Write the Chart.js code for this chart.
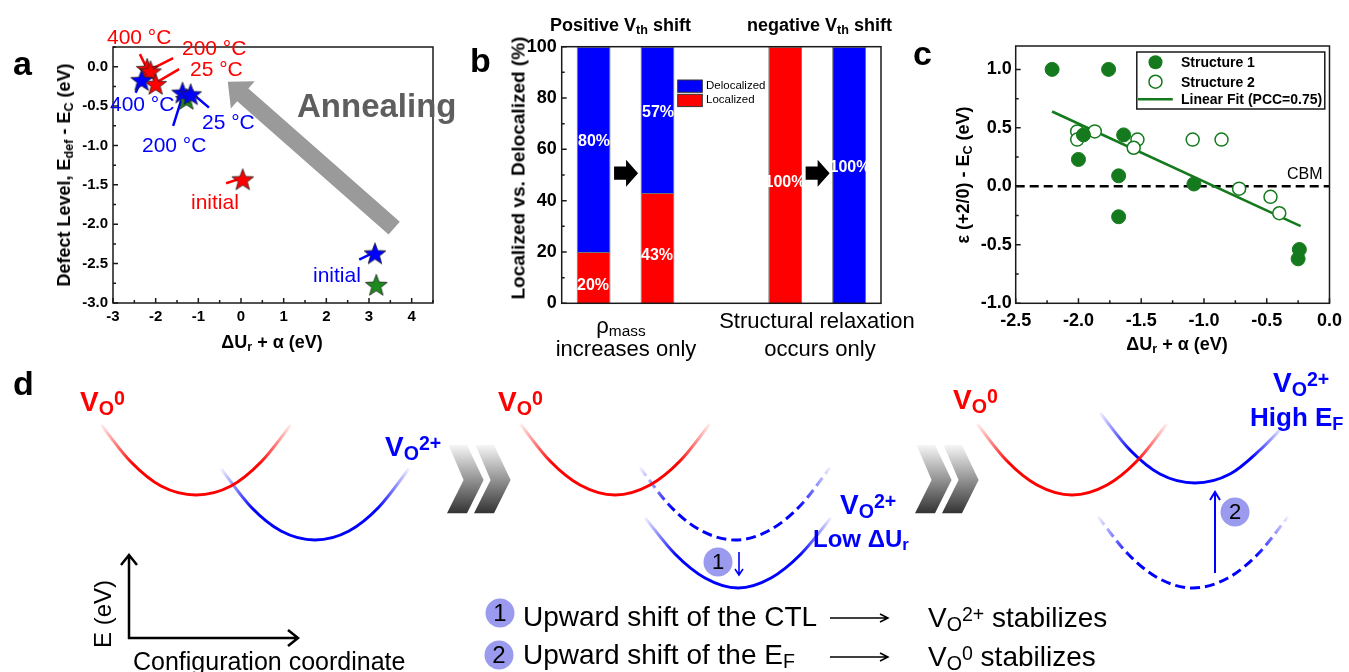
<!DOCTYPE html>
<html>
<head>
<meta charset="utf-8">
<title>Defect level / localization / CTL schematic</title>
<script src="https://cdn.jsdelivr.net/npm/chart.js@4.4.1/dist/chart.umd.min.js"></script>
<style>
  html, body { margin: 0; padding: 0; background: #fff; }
  #page { position: relative; width: 1349px; height: 672px; overflow: hidden;
          font-family: "Liberation Sans", Arial, sans-serif; color: #000; }
  #page canvas { position: absolute; }
  .t { position: absolute; line-height: 1; white-space: nowrap; }
  .b { font-weight: bold; }
  .c { transform: translateX(-50%); }
  .rot { transform: translate(-50%, -50%) rotate(-90deg); }
  .t sub, .t sup { font-size: 0.7em; line-height: 0; position: relative; vertical-align: baseline; }
  .t sub { top: 0.2em; }
  .t sup { top: -0.33em; }
  .red { color: #f00; }
  .blue { color: #00f; }
  .w { color: #fff; }
</style>
</head>
<body>
<div id="page">
  <canvas id="chA" width="460" height="360" style="left:0;top:0"></canvas>
  <canvas id="chB" width="440" height="360" style="left:460px;top:0"></canvas>
  <canvas id="chC" width="449" height="360" style="left:900px;top:0"></canvas>
  <canvas id="chD" width="1349" height="312" style="left:0;top:360px"></canvas>

  <!-- panel letters -->
  <div class="t b" style="left:13px;top:46px;font-size:34px">a</div>
  <div class="t b" style="left:470px;top:43px;font-size:34px">b</div>
  <div class="t b" style="left:913px;top:36px;font-size:34px">c</div>
  <div class="t b" style="left:13px;top:366px;font-size:34px">d</div>

  <!-- ── a ── -->
  <div class="t b rot" style="left:64px;top:175px;font-size:18px">Defect Level, E<sub>def</sub> - E<sub>C</sub> (eV)</div>
  <div class="t b c" style="left:272px;top:333px;font-size:18px">ΔU<sub>r</sub> + α (eV)</div>
  <div class="t red" style="left:107px;top:26px;font-size:21px">400 °C</div>
  <div class="t red" style="left:182px;top:37px;font-size:21px">200 °C</div>
  <div class="t red" style="left:190px;top:58px;font-size:21px">25 °C</div>
  <div class="t blue" style="left:110px;top:93px;font-size:21px">400 °C</div>
  <div class="t blue" style="left:142px;top:134px;font-size:21px">200 °C</div>
  <div class="t blue" style="left:202px;top:111px;font-size:21px">25 °C</div>
  <div class="t red" style="left:191px;top:191px;font-size:21px">initial</div>
  <div class="t blue" style="left:313px;top:264px;font-size:21px">initial</div>
  <div class="t b" style="left:297px;top:89px;font-size:33px;color:#5e5e5e">Annealing</div>

  <!-- ── b ── -->
  <div class="t b" style="left:550px;top:16px;font-size:18px">Positive V<sub>th</sub> shift</div>
  <div class="t b" style="left:747px;top:16px;font-size:18px">negative V<sub>th</sub> shift</div>
  <div class="t b rot" style="left:518px;top:168px;font-size:19px">Localized vs. Delocalized (%)</div>
  <div class="t" style="left:706px;top:80px;font-size:11.5px">Delocalized</div>
  <div class="t" style="left:706px;top:94px;font-size:11.5px">Localized</div>
  <div class="t b c w" style="left:594px;top:133px;font-size:16px">80%</div>
  <div class="t b c w" style="left:593px;top:277px;font-size:16px">20%</div>
  <div class="t b c w" style="left:658px;top:104px;font-size:16px">57%</div>
  <div class="t b c w" style="left:657px;top:247px;font-size:16px">43%</div>
  <div class="t b c w" style="left:785px;top:174px;font-size:16px">100%</div>
  <div class="t b c w" style="left:850px;top:159px;font-size:16px">100%</div>
  <div class="t c" style="left:621px;top:315px;font-size:22px">ρ<sub>mass</sub></div>
  <div class="t c" style="left:626px;top:338px;font-size:22px">increases only</div>
  <div class="t c" style="left:817px;top:310px;font-size:22px">Structural relaxation</div>
  <div class="t c" style="left:820px;top:338px;font-size:22px">occurs only</div>

  <!-- ── c ── -->
  <div class="t b rot" style="left:963px;top:175px;font-size:18px">ε (+2/0) - E<sub>C</sub> (eV)</div>
  <div class="t b c" style="left:1177px;top:335px;font-size:18px">ΔU<sub>r</sub> + α (eV)</div>
  <div class="t" style="left:1287px;top:166px;font-size:16px">CBM</div>
  <div class="t b" style="left:1181px;top:55px;font-size:14px">Structure 1</div>
  <div class="t b" style="left:1181px;top:75px;font-size:14px">Structure 2</div>
  <div class="t b" style="left:1181px;top:92px;font-size:14px">Linear Fit (PCC=0.75)</div>

  <!-- ── d ── -->
  <div class="t b red" style="left:80px;top:388px;font-size:28px">V<sub>O</sub><sup>0</sup></div>
  <div class="t b blue" style="left:385px;top:433px;font-size:28px">V<sub>O</sub><sup>2+</sup></div>
  <div class="t b red" style="left:498px;top:388px;font-size:28px">V<sub>O</sub><sup>0</sup></div>
  <div class="t b blue" style="left:840px;top:491px;font-size:28px">V<sub>O</sub><sup>2+</sup></div>
  <div class="t b blue" style="left:813px;top:527px;font-size:24px">Low ΔU<sub>r</sub></div>
  <div class="t b red" style="left:953px;top:386px;font-size:28px">V<sub>O</sub><sup>0</sup></div>
  <div class="t b blue" style="left:1273px;top:369px;font-size:28px">V<sub>O</sub><sup>2+</sup></div>
  <div class="t b blue" style="left:1250px;top:404px;font-size:26px">High E<sub>F</sub></div>
  <div class="t rot" style="left:103px;top:614px;font-size:24px">E (eV)</div>
  <div class="t" style="left:133px;top:649px;font-size:25px">Configuration coordinate</div>
  <div class="t c" style="left:718px;top:551px;font-size:22px">1</div>
  <div class="t c" style="left:1235px;top:501px;font-size:22px">2</div>
  <div class="t c" style="left:500px;top:601px;font-size:24px">1</div>
  <div class="t c" style="left:499px;top:643px;font-size:24px">2</div>
  <div class="t" style="left:523px;top:603px;font-size:28px">Upward shift of the CTL</div>
  <div class="t" style="left:523px;top:641px;font-size:28px">Upward shift of the E<sub>F</sub></div>
  <div class="t" style="left:928px;top:604px;font-size:28px">V<sub>O</sub><sup>2+</sup> stabilizes</div>
  <div class="t" style="left:928px;top:643px;font-size:28px">V<sub>O</sub><sup>0</sup> stabilizes</div>
</div>

<script>
/* ── Panel a: defect level vs ΔUr + α ── */
const aRedX   = [-2.20, -2.12, -2.00, 0.04];
const aRedY   = [-0.03, -0.06, -0.22, -1.43];
const aBlueX  = [-2.33, -1.37, -1.18, 3.14];
const aBlueY  = [-0.17, -0.33, -0.35, -2.37];
const aGreenX = [-1.28, 3.17];
const aGreenY = [-0.41, -2.77];
const aXTicks = [-3, -2, -1, 0, 1, 2, 3, 4];
const aYTicks = [-3, -2.5, -2, -1.5, -1, -0.5, 0];

/* ── Panel b: localized / delocalized share ── */
const bCats   = ['ρmass before', 'ρmass after', '', 'relax before', 'relax after'];
const bLocal  = [20, 43, null, 100, 0];
const bDeloc  = [80, 57, null, 0, 100];
const bYTicks = [0, 20, 40, 60, 80, 100];

/* ── Panel c: ε(+2/0) - Ec vs ΔUr + α ── */
const cS1X   = [-2.21, -1.76, -1.96, -2.00, -1.64, -1.68, -1.68, -1.08, -0.24, -0.25];
const cS1Y   = [1.00, 1.00, 0.44, 0.23, 0.44, 0.09, -0.26, 0.02, -0.54, -0.62];
const cS2X   = [-2.01, -2.01, -1.87, -1.53, -1.56, -1.09, -0.86, -0.72, -0.47, -0.40];
const cS2Y   = [0.47, 0.40, 0.47, 0.40, 0.33, 0.40, 0.40, -0.02, -0.09, -0.23];
const cFitX  = [-2.21, -0.23];
const cFitY  = [0.64, -0.34];
const cCbmX  = [-2.5, 0];
const cCbmY  = [0, 0];
const cXTicks = [-2.5, -2, -1.5, -1, -0.5, 0];
const cYTicks = [-1, -0.5, 0, 0.5, 1];

/* ── Panel d: configuration-coordinate curves (config coord, energy) ── */
const vo0A_x  = [10.1, 13.1, 16.1, 19.6, 23.1, 26.1, 29.1];
const vo0A_y  = [24.7, 21.0, 18.6, 17.7, 18.6, 21.0, 24.7];
const vo2A_x  = [22.1, 25.1, 28.1, 31.5, 34.9, 37.9, 40.9];
const vo2A_y  = [20.3, 16.5, 14.1, 13.2, 14.1, 16.5, 20.3];
const vo0B_x  = [52.0, 55.0, 58.0, 61.5, 65.0, 68.0, 71.0];
const vo0B_y  = [24.8, 21.1, 18.7, 17.7, 18.7, 21.1, 24.8];
const vo2Bo_x = [64.0, 67.0, 70.0, 73.5, 77.0, 80.0, 83.0];
const vo2Bo_y = [20.4, 16.6, 14.2, 13.2, 14.2, 16.6, 20.4];
const vo2Bn_x = [64.5, 67.5, 70.5, 73.8, 77.1, 80.1, 83.1];
const vo2Bn_y = [15.4, 11.8, 9.4, 8.4, 9.4, 11.8, 15.4];
const vo0C_x  = [97.7, 100.7, 103.7, 107.2, 110.7, 113.7, 116.7];
const vo0C_y  = [24.8, 21.1, 18.7, 17.7, 18.7, 21.1, 24.8];
const vo2Cn_x = [110.0, 113.0, 116.0, 119.5, 123.0, 126.0, 128.2];
const vo2Cn_y = [25.9, 22.2, 19.8, 18.9, 19.8, 22.2, 24.4];
const vo2Co_x = [109.8, 112.8, 115.8, 119.3, 122.8, 125.8, 128.8];
const vo2Co_y = [15.5, 11.8, 9.4, 8.4, 9.4, 11.8, 15.5];

Chart.defaults.font.family = '"Liberation Sans", Arial, sans-serif';
Chart.defaults.color = '#000';
Chart.defaults.animation = false;
Chart.defaults.plugins.legend.display = false;
Chart.defaults.plugins.tooltip.enabled = false;

const pts = (xs, ys) => xs.map((x, i) => ({ x, y: ys[i] }));

function axis(size, pad, fmt, list, fit) {
    return {
        grid: { display: false, drawTicks: false },
        border: { display: false },
        ticks: { font: { size, weight: 'bold' }, color: '#000', padding: pad,
                 autoSkip: false, maxRotation: 0, callback: v => fmt(v) },
        afterBuildTicks: s => { if (list) s.ticks = list.map(v => ({ value: v })); },
        afterFit: s => {
            if (fit.w != null) s.width = fit.w;
            if (fit.h != null) s.height = fit.h;
        },
    };
}

/* frame + inward major/minor ticks (left and bottom) */
const frameTicks = {
    id: 'frameTicks',
    afterDraw(chart, args, o) {
        const { ctx, chartArea: a, scales } = chart;
        ctx.save();
        ctx.strokeStyle = '#1a1a1a';
        ctx.lineWidth = 1.5;
        ctx.strokeRect(a.left, a.top, a.right - a.left, a.bottom - a.top);
        ctx.beginPath();
        if (o.x) {
            const s = scales.x;
            for (let v = s.min; v <= s.max + 1e-9; v += o.x) {
                const p = s.getPixelForValue(v);
                ctx.moveTo(p, a.bottom); ctx.lineTo(p, a.bottom - 3);
            }
            s.ticks.forEach(t => {
                const p = s.getPixelForValue(t.value);
                ctx.moveTo(p, a.bottom); ctx.lineTo(p, a.bottom - 5);
            });
        }
        if (o.y) {
            const s = scales.y;
            for (let v = s.min; v <= s.max + 1e-9; v += o.y) {
                const p = s.getPixelForValue(v);
                ctx.moveTo(a.left, p); ctx.lineTo(a.left + 3, p);
            }
            s.ticks.forEach(t => {
                const p = s.getPixelForValue(t.value);
                ctx.moveTo(a.left, p); ctx.lineTo(a.left + 5, p);
            });
        }
        ctx.stroke();
        ctx.restore();
    }
};

function blockArrow(ctx, x0, y0, x1, y1, shaftW, headW, headL) {
    const dx = x1 - x0, dy = y1 - y0, L = Math.hypot(dx, dy);
    const ux = dx / L, uy = dy / L, nx = -uy, ny = ux;
    const bx = x1 - ux * headL, by = y1 - uy * headL;
    ctx.beginPath();
    ctx.moveTo(x0 + nx * shaftW, y0 + ny * shaftW);
    ctx.lineTo(bx + nx * shaftW, by + ny * shaftW);
    ctx.lineTo(bx + nx * headW, by + ny * headW);
    ctx.lineTo(x1, y1);
    ctx.lineTo(bx - nx * headW, by - ny * headW);
    ctx.lineTo(bx - nx * shaftW, by - ny * shaftW);
    ctx.lineTo(x0 - nx * shaftW, y0 - ny * shaftW);
    ctx.closePath();
    ctx.fill();
}

function lineArrow(ctx, x0, y0, x1, y1, hl, hw) {
    const dx = x1 - x0, dy = y1 - y0, L = Math.hypot(dx, dy);
    const ux = dx / L, uy = dy / L, nx = -uy, ny = ux;
    ctx.beginPath();
    ctx.moveTo(x0, y0); ctx.lineTo(x1, y1);
    ctx.moveTo(x1 - ux * hl + nx * hw, y1 - uy * hl + ny * hw);
    ctx.lineTo(x1, y1);
    ctx.lineTo(x1 - ux * hl - nx * hw, y1 - uy * hl - ny * hw);
    ctx.stroke();
}

/* star marker as point style */
function makeStar(fill) {
    const c = document.createElement('canvas');
    c.width = 26; c.height = 26;
    const g = c.getContext('2d');
    const R = 11.5, r = 4.8;
    g.beginPath();
    for (let i = 0; i < 10; i++) {
        const ang = -Math.PI / 2 + i * Math.PI / 5;
        const rad = i % 2 ? r : R;
        g.lineTo(13 + rad * Math.cos(ang), 14 + rad * Math.sin(ang));
    }
    g.closePath();
    g.fillStyle = fill; g.fill();
    g.strokeStyle = '#222'; g.lineWidth = 0.8; g.stroke();
    return c;
}

/* ── Panel a ── */
const aLeaders = [
    ['#f00', -2.37, 0.16, -2.20, -0.03],
    ['#f00', -1.59, 0.11, -2.10, -0.03],
    ['#f00', -1.45, -0.03, -1.98, -0.20],
    ['#00f', -2.47, -0.33, -2.33, -0.17],
    ['#00f', -1.59, -0.75, -1.36, -0.35],
    ['#00f', -0.75, -0.52, -1.12, -0.35],
    ['#f00', -0.35, -1.48, -0.07, -1.43],
    ['#00f', 2.77, -2.45, 3.07, -2.37],
];

const annoA = {
    id: 'annoA',
    beforeDatasetsDraw(chart) {
        const { ctx, scales: { x, y } } = chart;
        ctx.save();
        ctx.fillStyle = '#9a9a9a';
        blockArrow(ctx, x.getPixelForValue(3.59), y.getPixelForValue(-2.05),
                   x.getPixelForValue(-0.31), y.getPixelForValue(-0.19), 8.5, 18, 20);
        ctx.lineWidth = 2.5;
        aLeaders.forEach(([col, x0, y0, x1, y1]) => {
            ctx.strokeStyle = col;
            ctx.beginPath();
            ctx.moveTo(x.getPixelForValue(x0), y.getPixelForValue(y0));
            ctx.lineTo(x.getPixelForValue(x1), y.getPixelForValue(y1));
            ctx.stroke();
        });
        ctx.restore();
    }
};

new Chart(document.getElementById('chA'), {
    type: 'scatter',
    data: {
        datasets: [
            { label: 'green', data: pts(aGreenX, aGreenY), pointStyle: makeStar('#1c8a1c'), pointRadius: 10, order: 2 },
            { label: 'red',   data: pts(aRedX, aRedY),     pointStyle: makeStar('#ff0000'), pointRadius: 10, order: 1 },
            { label: 'blue',  data: pts(aBlueX, aBlueY),   pointStyle: makeStar('#0000ff'), pointRadius: 10, order: 0 },
        ],
    },
    options: {
        responsive: false,
        layout: { padding: { left: 63, right: 27, top: 47, bottom: 27 } },
        scales: {
            x: { ...axis(15, 5, v => v.toFixed(0), aXTicks, { h: 30 }), min: -3, max: 4.5 },
            y: { ...axis(15, 5, v => v.toFixed(1), aYTicks, { w: 50 }), min: -3, max: 0.25 },
        },
        plugins: { frameTicks: { x: 0.5, y: 0.25 } },
    },
    plugins: [annoA, frameTicks],
});

/* ── Panel b ── */
const annoB = {
    id: 'annoB',
    afterDatasetsDraw(chart) {
        const { ctx, chartArea: a, scales: { x, y } } = chart;
        ctx.save();
        ctx.fillStyle = '#000';
        [[0, 1], [3, 4]].forEach(([i, j]) => {
            const m = (x.getPixelForValue(i) + x.getPixelForValue(j)) / 2;
            const py = y.getPixelForValue(50.7);
            blockArrow(ctx, m - 11.5, py, m + 12.5, py, 6.6, 13.5, 12);
        });
        // legend swatches
        ctx.strokeStyle = '#333';
        ctx.lineWidth = 1;
        [['#0000ff', 33.3], ['#ff0000', 47.6]].forEach(([col, dy]) => {
            ctx.fillStyle = col;
            ctx.fillRect(a.left + 116, a.top + dy, 24.6, 12.3);
            ctx.strokeRect(a.left + 116, a.top + dy, 24.6, 12.3);
        });
        ctx.restore();
    }
};

new Chart(document.getElementById('chB'), {
    type: 'bar',
    data: {
        labels: bCats,
        datasets: [
            { label: 'Localized',   data: bLocal, backgroundColor: '#ff0000', borderColor: 'rgba(0,0,0,0.55)', borderWidth: 1 },
            { label: 'Delocalized', data: bDeloc, backgroundColor: '#0000ff', borderColor: 'rgba(0,0,0,0.55)', borderWidth: 1 },
        ],
    },
    options: {
        responsive: false,
        layout: { padding: { left: 51.7, right: 19, top: 46.7, bottom: 56.7 } },
        datasets: { bar: { barPercentage: 0.53, categoryPercentage: 1 } },
        scales: {
            x: { stacked: true, display: false },
            y: { ...axis(18, 5, v => String(v), bYTicks, { w: 50 }), stacked: true, min: 0, max: 100 },
        },
        plugins: { frameTicks: { y: 10 } },
    },
    plugins: [annoB, frameTicks],
});

/* ── Panel c ── */
const green = '#157a1d';
const legendC = {
    id: 'legendC',
    afterDraw(chart) {
        const { ctx, chartArea: a } = chart;
        const L = a.right - 192.7, T = a.top + 6;
        ctx.save();
        ctx.strokeStyle = '#1a1a1a'; ctx.lineWidth = 1.5;
        ctx.strokeRect(L, T, 188, 57);
        ctx.fillStyle = green;
        ctx.beginPath(); ctx.arc(L + 18.7, T + 10.3, 7, 0, Math.PI * 2); ctx.fill();
        ctx.fillStyle = '#fff'; ctx.strokeStyle = green;
        ctx.beginPath(); ctx.arc(L + 18.7, T + 29.7, 6.5, 0, Math.PI * 2); ctx.fill(); ctx.stroke();
        ctx.lineWidth = 2.5;
        ctx.beginPath(); ctx.moveTo(L + 1, T + 47.3); ctx.lineTo(L + 36, T + 47.3); ctx.stroke();
        ctx.restore();
    }
};

new Chart(document.getElementById('chC'), {
    type: 'scatter',
    data: {
        datasets: [
            { label: 'Structure 1', data: pts(cS1X, cS1Y), pointRadius: 7, backgroundColor: green, borderColor: green, order: 0 },
            { label: 'Structure 2', data: pts(cS2X, cS2Y), pointRadius: 6.5, backgroundColor: '#fff', borderColor: green, borderWidth: 1.5, order: 1 },
            { label: 'Linear Fit (PCC=0.75)', data: pts(cFitX, cFitY), showLine: true, pointRadius: 0, borderColor: green, borderWidth: 2.5, order: 2 },
            { label: 'CBM', data: pts(cCbmX, cCbmY), showLine: true, pointRadius: 0, borderColor: '#000', borderWidth: 2.5, borderDash: [9, 5], order: 3 },
        ],
    },
    options: {
        responsive: false,
        layout: { padding: { left: 59.7, right: 15, top: 46, bottom: 26.7 } },
        scales: {
            x: { ...axis(18, 7, v => v.toFixed(1), cXTicks, { h: 30 }), min: -2.5, max: 0 },
            y: { ...axis(18, 4, v => v.toFixed(1), cYTicks, { w: 56 }), min: -1, max: 1.2 },
        },
        plugins: { frameTicks: { x: 0.25, y: 0.25 } },
    },
    plugins: [frameTicks, legendC],
});

/* ── Panel d ── */
function fadeLine(rgb, xs) {
    return (c) => {
        const ch = c.chart;
        if (!ch.chartArea) return `rgb(${rgb})`;
        const sx = ch.scales.x;
        const g = ch.ctx.createLinearGradient(sx.getPixelForValue(xs[0]), 0,
                                              sx.getPixelForValue(xs[xs.length - 1]), 0);
        g.addColorStop(0, `rgba(${rgb},0.05)`);
        g.addColorStop(0.17, `rgba(${rgb},1)`);
        g.addColorStop(0.83, `rgba(${rgb},1)`);
        g.addColorStop(1, `rgba(${rgb},0.05)`);
        return g;
    };
}

const RED = '255,0,0', BLUE = '0,0,255';
const curve = (label, xs, ys, rgb, dashed) => ({
    label, data: pts(xs, ys), showLine: true, pointRadius: 0, borderWidth: 3,
    borderColor: fadeLine(rgb, xs), borderDash: dashed ? [10, 5] : [],
    cubicInterpolationMode: 'monotone',
});

const decoD = {
    id: 'decoD',
    beforeDatasetsDraw(chart) {
        const { ctx, scales: { x, y } } = chart;
        ctx.save();
        // double chevrons between the three stages
        [44.7, 91.5].forEach(u => {
            [0, 2.7].forEach(off => {
                const px = x.getPixelForValue(u + off), top = y.getPixelForValue(22.7);
                const g = ctx.createLinearGradient(0, top, 0, top + 68);
                g.addColorStop(0, '#f6f6f6');
                g.addColorStop(1, '#343434');
                ctx.fillStyle = g;
                ctx.beginPath();
                [[1.6, 0], [20, 0], [36.6, 35], [20, 68.3], [0, 68.3], [16.6, 35]].forEach(([dx, dy], i) =>
                    i ? ctx.lineTo(px + dx, top + dy) : ctx.moveTo(px + dx, top + dy));
                ctx.closePath();
                ctx.fill();
            });
        });
        // E vs configuration coordinate axes
        ctx.strokeStyle = '#000'; ctx.lineWidth = 2.5;
        const ox = x.getPixelForValue(12.9), oy = y.getPixelForValue(3.4);
        lineArrow(ctx, ox, oy + 1, ox, y.getPixelForValue(11.7), 10, 8);
        lineArrow(ctx, ox - 1, oy, x.getPixelForValue(29.8), oy, 10, 8);
        ctx.restore();
    },
    afterDatasetsDraw(chart) {
        const { ctx, scales: { x, y } } = chart;
        ctx.save();
        ctx.strokeStyle = '#0000ff';
        ctx.lineWidth = 1.6;
        lineArrow(ctx, x.getPixelForValue(73.9), y.getPixelForValue(12.0),
                       x.getPixelForValue(73.9), y.getPixelForValue(9.7), 6, 4);
        ctx.lineWidth = 2;
        lineArrow(ctx, x.getPixelForValue(121.5), y.getPixelForValue(9.9),
                       x.getPixelForValue(121.5), y.getPixelForValue(18.0), 8, 5);
        ctx.strokeStyle = '#000'; ctx.lineWidth = 1.5;
        [5.4, 1.5].forEach(v => lineArrow(ctx, x.getPixelForValue(83.0), y.getPixelForValue(v),
                                               x.getPixelForValue(88.8), y.getPixelForValue(v), 8, 4));
        ctx.fillStyle = '#9a9aee';
        [[71.8, 11.0], [123.5, 16.0], [50.0, 5.9], [49.9, 1.7]].forEach(([u, v]) => {
            ctx.beginPath();
            ctx.arc(x.getPixelForValue(u), y.getPixelForValue(v), 14.5, 0, Math.PI * 2);
            ctx.fill();
        });
        ctx.restore();
    }
};

new Chart(document.getElementById('chD'), {
    type: 'scatter',
    data: {
        datasets: [
            curve('VO0 initial', vo0A_x, vo0A_y, RED),
            curve('VO2+ initial', vo2A_x, vo2A_y, BLUE),
            curve('VO0 low dUr', vo0B_x, vo0B_y, RED),
            curve('VO2+ before', vo2Bo_x, vo2Bo_y, BLUE, true),
            curve('VO2+ low dUr', vo2Bn_x, vo2Bn_y, BLUE),
            curve('VO0 high EF', vo0C_x, vo0C_y, RED),
            curve('VO2+ high EF', vo2Cn_x, vo2Cn_y, BLUE),
            curve('VO2+ before EF', vo2Co_x, vo2Co_y, BLUE, true),
        ],
    },
    options: {
        responsive: false,
        layout: { padding: 0 },
        scales: {
            x: { display: false, min: 0, max: 134.9 },
            y: { display: false, min: 0, max: 31.2 },
        },
    },
    plugins: [decoD],
});
</script>
</body>
</html>
